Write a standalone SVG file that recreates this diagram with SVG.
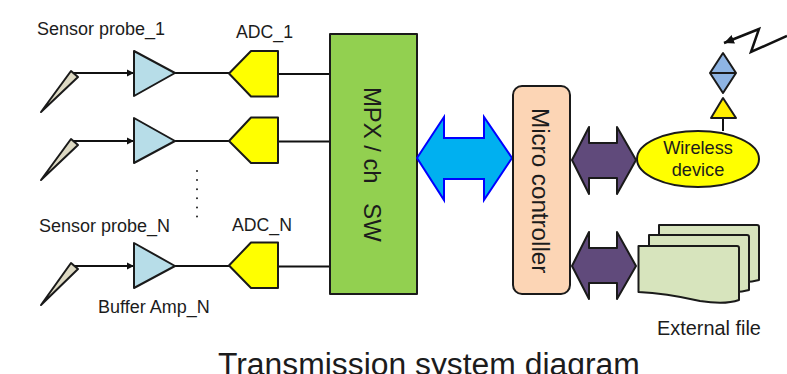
<svg xmlns="http://www.w3.org/2000/svg" width="787" height="374" viewBox="0 0 787 374">
<style>
text{font-family:"Liberation Sans",Arial,sans-serif;fill:#1c1c1c}
.lbl{font-size:18px}
.k{stroke:#1a1a1a;stroke-width:2;stroke-linejoin:round}
.w{fill:none;stroke:#111;stroke-width:2}
.amp{fill:#b7dde8}
.adc{fill:#ffff00}
.probe{fill:#ddd9c3}
.bus{fill:#604a7b}
.file{fill:#d7e4bd}
</style>
<defs>
<marker id="ah" markerUnits="userSpaceOnUse" markerWidth="8" markerHeight="8" refX="7" refY="4" orient="auto"><path d="M0 0.5L7 4L0 7.5z" fill="#111"/></marker>
<marker id="zh" markerUnits="userSpaceOnUse" markerWidth="12" markerHeight="10" refX="10" refY="5" orient="auto"><path d="M0 0.5L10 5L0 9.5z" fill="#111"/></marker>
</defs>
<rect width="787" height="374" fill="#fff"/>
<g id="connectors">
<path class="w" d="M73 73H134" marker-end="url(#ah)"/>
<path class="w" d="M73 141H134" marker-end="url(#ah)"/>
<path class="w" d="M73 266H134" marker-end="url(#ah)"/>
<path class="w" d="M175 73H229M175 141H229M175 266H229M278 74H330M278 141.500H330M278 266.500H330"/>
<path class="w" d="M723 118V131"/>
<path d="M787 36L751 52L759 29L724 43" fill="none" stroke="#111" stroke-width="2.500" marker-end="url(#zh)"/>
<path d="M197 171V217" fill="none" stroke="#222" stroke-width="2" stroke-linecap="round" stroke-dasharray="0 9.100"/>
</g>
<g id="probe-1"><path class="probe k" d="M41 112L71 71L78 77z"/></g>
<g id="probe-2"><path class="probe k" d="M41 180L71 139L78 145z"/></g>
<g id="probe-n"><path class="probe k" d="M41 305L71 263L78 269z"/></g>
<g id="amp-1"><path class="amp k" d="M134 51V96L175 73z"/></g>
<g id="amp-2"><path class="amp k" d="M134 118V163L175 141z"/></g>
<g id="amp-n"><path class="amp k" d="M134 243V288L175 266z"/></g>
<g id="adc-1"><path class="adc k" d="M229 73.500L251 51H278V96.500H251z"/></g>
<g id="adc-2"><path class="adc k" d="M229 141L251 117.500H278V163H251z"/></g>
<g id="adc-n"><path class="adc k" d="M229 265.500L251 242.500H278V288H251z"/></g>
<g id="mpx"><rect x="330" y="34" width="87" height="260" fill="#92d050" class="k"/>
<text transform="translate(363.500 87) rotate(90)" font-size="23.800" xml:space="preserve">MPX / ch   SW</text></g>
<g id="bus-main"><path d="M417 158L444 117V138H484V117L512 158L484 200V179H444V200z" fill="#00b0f0" stroke="#0000ff" stroke-width="2" stroke-linejoin="miter"/></g>
<g id="micro"><rect x="513" y="86" width="57" height="208" rx="9" fill="#fcd5b5" class="k"/>
<text transform="translate(532 108) rotate(90)" font-size="24.200">Micro controller</text></g>
<g id="bus-wireless"><path class="bus k" d="M572 160L589 127V143H617V127L636 160L617 194V178H589V194z"/></g>
<g id="bus-file"><path class="bus k" d="M572 266L589 232V248H617V232L636 266L617 299V283H589V299z"/></g>
<g id="wireless"><ellipse cx="698" cy="159" rx="61" ry="28" fill="#ffff00" class="k"/>
<text x="698" y="154" text-anchor="middle" font-size="18.200">Wireless</text>
<text x="698" y="176" text-anchor="middle" font-size="18.200">device</text></g>
<g id="antenna-base"><path d="M723 98L711 118H736z" fill="#ffee00" class="k"/></g>
<g id="antenna"><path d="M723 53L710 73L723 93L736 73z" fill="#8eb4e3" class="k"/><path class="k" d="M710 73H736"/></g>
<g id="files">
<path class="file k" d="M659 225H757Q759 225 759 227V280Q752 282 745 282H659z"/>
<path class="file k" d="M649 235H747Q749 235 749 237V290Q742 292 735 292H649z"/>
<path class="file k" d="M638.500 246H737Q739 246 739 248V300Q725 305 700 301Q665 293 638.500 292z"/>
</g>
<g id="labels">
<text class="lbl" x="37" y="35">Sensor probe_1</text>
<text x="236" y="38" font-size="17.700">ADC_1</text>
<text class="lbl" x="39" y="232">Sensor probe_N</text>
<text x="232" y="231" font-size="17.700">ADC_N</text>
<text class="lbl" x="98" y="313">Buffer Amp_N</text>
<text x="657" y="335" font-size="19.900">External file</text>
<text x="218" y="375" font-size="31.850">Transmission system diagram</text>
</g>
</svg>
